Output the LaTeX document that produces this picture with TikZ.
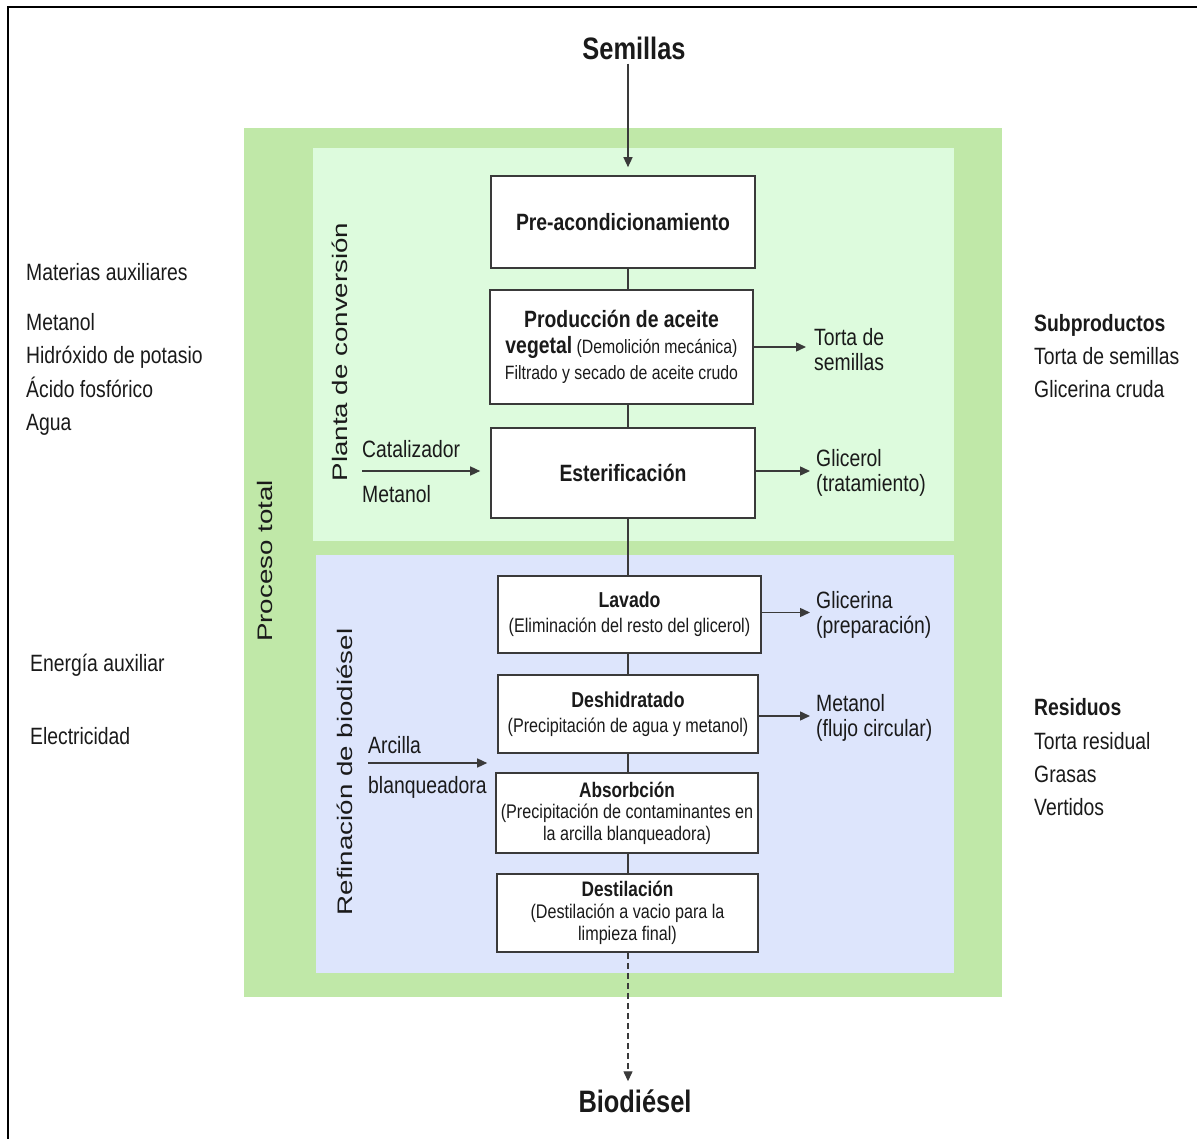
\documentclass[tikz,border=0pt]{standalone}
\usepackage{graphicx}
\usepackage{fontspec}
\setmainfont{Liberation Sans}[FakeStretch=0.82]
\newfontfamily\rotfont{Liberation Sans}
\usetikzlibrary{arrows.meta}

\definecolor{totalgreen}{HTML}{C0E8A8}
\definecolor{plantgreen}{HTML}{DDFBDD}
\definecolor{refblue}{HTML}{DDE5FC}
\definecolor{ink}{HTML}{1A1A1A}
\definecolor{edge}{HTML}{3A3A3A}

\begin{document}
\begin{tikzpicture}[x=1pt,y=-1pt,
  stage/.style={draw=edge, line width=1.6pt, fill=white, inner sep=0pt, align=center, text=ink},
  flow/.style={draw=edge, line width=1.4pt},
  feed/.style={flow, -{Triangle[length=10pt,width=9pt]}},
  txt/.style={inner sep=0pt, text=ink, font=\fontsize{23.6}{25}\selectfont},
  sidetxt/.style={txt, anchor=west, align=left},
  headtxt/.style={inner sep=0pt, text=ink, font=\bfseries\fontsize{31}{34}\selectfont},
  rottxt/.style={inner sep=0pt, text=ink, rotate=90, font=\rotfont\fontsize{21}{24}\selectfont},
  bigsub/.style={font=\fontsize{19.3}{26}\selectfont},
  smallsub/.style={font=\fontsize{19.7}{25}\selectfont},
]
\useasboundingbox (0,0) rectangle (1197,1139);

% frame
\draw[black, line width=1.6pt] (8,1145) -- (8,7) -- (1205,7);

% process areas
\fill[totalgreen] (244,128) rectangle (1002,997);
\fill[plantgreen] (313,148) rectangle (954,541);
\fill[refblue] (316,555) rectangle (954,973);

% vertical labels of the areas
\node[rottxt] (lbltotal) at (265,561) {\scalebox{1.32}[1]{Proceso total}};
\node[rottxt] (lblplant) at (340,352) {\scalebox{1.32}[1]{Planta de conversión}};
\node[rottxt] (lblref) at (345,772) {\scalebox{1.32}[1]{Refinación de biodiésel}};

% spine
\coordinate (sx) at (628,0);

% input and output
\node[headtxt] (seeds) at (634,48) {Semillas};
\node[headtxt] (bio) at (635,1101) {Biodiésel};

% conversion stages
\node[stage, minimum width=264pt, minimum height=92pt] (pre) at (623,222)
  {\bfseries\fontsize{23.6}{26}\selectfont Pre-acondicionamiento};
\node[stage, bigsub, minimum width=263pt, minimum height=114pt] (prod) at (621.5,347)
  {{\bfseries\fontsize{23.6}{26}\selectfont Producción de aceite}\\
   {\bfseries\fontsize{23.6}{26}\selectfont vegetal} (Demolición mecánica)\\
   Filtrado y secado de aceite crudo};
\node[stage, minimum width=264pt, minimum height=90pt] (ester) at (623,473)
  {\bfseries\fontsize{23.6}{26}\selectfont Esterificación};

% refining stages
\node[stage, smallsub, minimum width=263pt, minimum height=77pt] (lav) at (629.5,614.5)
  {{\bfseries\fontsize{21.6}{25}\selectfont Lavado}\\(Eliminación del resto del glicerol)};
\node[stage, smallsub, minimum width=260pt, minimum height=78pt] (desh) at (628,714)
  {{\bfseries\fontsize{21.6}{25}\selectfont Deshidratado}\\(Precipitación de agua y metanol)};
\node[stage, font=\fontsize{19.7}{21.5}\selectfont, minimum width=262pt, minimum height=80pt] (abs) at (627,813)
  {{\bfseries\fontsize{21}{21.5}\selectfont Absorbción}\\(Precipitación de contaminantes en\\la arcilla blanqueadora)};
\node[stage, font=\fontsize{19.7}{22}\selectfont, minimum width=261pt, minimum height=78pt] (dest) at (627.5,913)
  {{\bfseries\fontsize{21}{22}\selectfont Destilación}\\(Destilación a vacio para la\\limpieza final)};

% main flow
\draw[feed, shorten <=4pt, shorten >=8pt] (seeds.south -| sx) -- (pre.north -| sx);
\draw[flow] (pre.south -| sx) -- (prod.north -| sx);
\draw[flow] (prod.south -| sx) -- (ester.north -| sx);
\draw[flow] (ester.south -| sx) -- (lav.north -| sx);
\draw[flow] (lav.south -| sx) -- (desh.north -| sx);
\draw[flow] (desh.south -| sx) -- (abs.north -| sx);
\draw[flow] (abs.south -| sx) -- (dest.north -| sx);
\draw[feed, dashed, dash pattern=on 6pt off 4pt, shorten >=8pt] (dest.south -| sx) -- (bio.north -| sx);

% side products
\node[sidetxt] (torta) at (814,350) {Torta de\\semillas};
\node[sidetxt] (glicerol) at (816,473) {Glicerol\\(tratamiento)};
\node[sidetxt] (glicerina) at (816,615) {Glicerina\\(preparación)};
\node[sidetxt] (metrec) at (816,718) {Metanol\\(flujo circular)};
\draw[feed, shorten >=8pt] (prod.east) -- (prod.east -| torta.west);
\draw[feed, shorten >=6pt] ([yshift=2pt]ester.east) -- ([yshift=2pt]ester.east -| glicerol.west);
\draw[feed, shorten >=6pt] ([yshift=2pt]lav.east) -- ([yshift=2pt]lav.east -| glicerina.west);
\draw[feed, shorten >=6pt] ([yshift=-2pt]desh.east) -- ([yshift=-2pt]desh.east -| metrec.west);

% feeds from the left
\coordinate (catin) at (362,471);
\node[txt, anchor=base west] (cat) at (362,457) {Catalizador};
\node[txt, anchor=base west] (metin) at (362,502) {Metanol};
\draw[feed, shorten >=10pt] (catin) -- (catin -| ester.west);

\coordinate (arcin) at (368,763);
\node[txt, anchor=base west] (arc1) at (368,753) {Arcilla};
\node[txt, anchor=base west] (arc2) at (368,793) {blanqueadora};
\draw[feed, shorten >=10pt] (arcin) -- (arcin -| desh.west);

% auxiliary inputs
\node[txt, anchor=base west] (aux) at (26,280.5) {Materias auxiliares};
\node[txt, anchor=base west] (aux1) at (26,330.5) {Metanol};
\node[txt, anchor=base west] (aux2) at (26,364) {Hidróxido de potasio};
\node[txt, anchor=base west] (aux3) at (26,397.5) {Ácido fosfórico};
\node[txt, anchor=base west] (aux4) at (26,431) {Agua};
\node[txt, anchor=base west] (en) at (30,671.5) {Energía auxiliar};
\node[txt, anchor=base west] (en1) at (30,744.5) {Electricidad};

% by-products and waste
\node[txt, anchor=base west, font=\bfseries\fontsize{23.6}{25}\selectfont] (sub) at (1034,331.5) {Subproductos};
\node[txt, anchor=base west] (sub1) at (1034,364.5) {Torta de semillas};
\node[txt, anchor=base west] (sub2) at (1034,397.5) {Glicerina cruda};
\node[txt, anchor=base west, font=\bfseries\fontsize{23.6}{25}\selectfont] (res) at (1034,715.5) {Residuos};
\node[txt, anchor=base west] (res1) at (1034,749.5) {Torta residual};
\node[txt, anchor=base west] (res2) at (1034,782.5) {Grasas};
\node[txt, anchor=base west] (res3) at (1034,815.5) {Vertidos};
\end{tikzpicture}
\end{document}
